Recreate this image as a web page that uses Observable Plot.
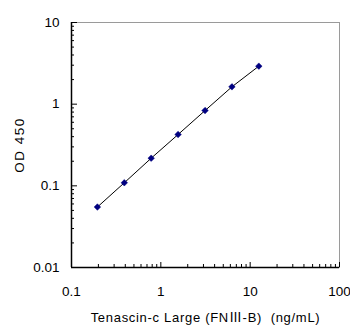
<!DOCTYPE html>
<html>
<head>
<meta charset="utf-8">
<script src="https://cdn.jsdelivr.net/npm/d3@7"></script>
<script src="https://cdn.jsdelivr.net/npm/@observablehq/plot@0.6"></script>
<style>
  html, body { margin: 0; padding: 0; background: #fff; }
  #chart svg { display: block; }
</style>
</head>
<body>
<div id="chart"></div>
<script>
const concentration = [0.195, 0.39, 0.78, 1.56, 3.125, 6.25, 12.5];
const od450 = [0.055, 0.109, 0.218, 0.425, 0.835, 1.63, 2.92];
const xTicks = [0.1, 1, 10, 100];
const yTicks = [0.01, 0.1, 1, 10];
const xTickLabels = ["0.1", "1", "10", "100"];
const yTickLabels = ["0.01", "0.1", "1", "10"];
const xLabel = "Tenascin-c Large (FN\u2162-B)\u00a0\u00a0(ng/mL)";
const yLabel = "OD 450";

const minor = (lo, hi) => {
  const out = [];
  for (let d = lo; d < hi; d *= 10) for (let k = 2; k <= 9; k++) out.push(+(d * k).toPrecision(3));
  return out;
};
const xMinor = minor(0.1, 100);
const yMinor = minor(0.01, 10);
const data = concentration.map((c, i) => ({c, od: od450[i]}));
const xLab = new Map(xTicks.map((t, i) => [t, xTickLabels[i]]));
const yLab = new Map(yTicks.map((t, i) => [t, yTickLabels[i]]));

const font = "'Liberation Sans', Arial, 'Noto Sans CJK JP', sans-serif";

const chart = Plot.plot({
  width: 350,
  height: 325,
  marginLeft: 71,
  marginRight: 11,
  marginTop: 22,
  marginBottom: 58,
  style: {fontFamily: font, fontSize: "13.5px", color: "#000", background: "#fff"},
  x: {type: "log", domain: [0.1, 100]},
  y: {type: "log", domain: [0.01, 10]},
  marks: [
    Plot.frame({stroke: "#9a9a9a"}),
    Plot.axisX({ticks: xMinor, tickSize: -3, tickFormat: () => "", label: null}),
    Plot.axisX({ticks: xTicks, tickSize: -5, tickFormat: () => "", label: null}),
    Plot.axisY({ticks: yMinor, tickSize: -3, tickFormat: () => "", label: null}),
    Plot.axisY({ticks: yTicks, tickSize: -6, tickFormat: () => "", label: null}),
    Plot.axisX({ticks: xTicks, tickSize: 0, tickPadding: 19, tickFormat: (d) => xLab.get(d), label: null}),
    Plot.axisY({ticks: yTicks, tickSize: 0, tickPadding: 12, tickFormat: (d) => yLab.get(d), label: null}),
    Plot.ruleX([0.1], {stroke: "#000", strokeWidth: 1.5}),
    Plot.ruleY([0.01], {stroke: "#000", strokeWidth: 1.5}),
    Plot.line(data, {x: "c", y: "od", stroke: "#000", strokeWidth: 1}),
    Plot.dot(data, {x: "c", y: "od", symbol: "square", rotate: 45, fill: "#000080", stroke: "#000080", strokeWidth: 0.5, r: 2.6}),
    Plot.text([xLabel], {frameAnchor: "bottom", dy: 50, lineAnchor: "middle", textAnchor: "middle", fontSize: 13}),
    Plot.text([yLabel], {frameAnchor: "left", dx: -52, rotate: -90, lineAnchor: "middle", textAnchor: "middle", fontSize: 13.5})
  ]
});
chart.querySelectorAll("text").forEach((t) => {
  if (t.textContent === xLabel) t.style.letterSpacing = "0.7px";
  if (t.textContent === yLabel) t.style.letterSpacing = "1.5px";
});
document.getElementById("chart").appendChild(chart);
</script>
</body>
</html>
